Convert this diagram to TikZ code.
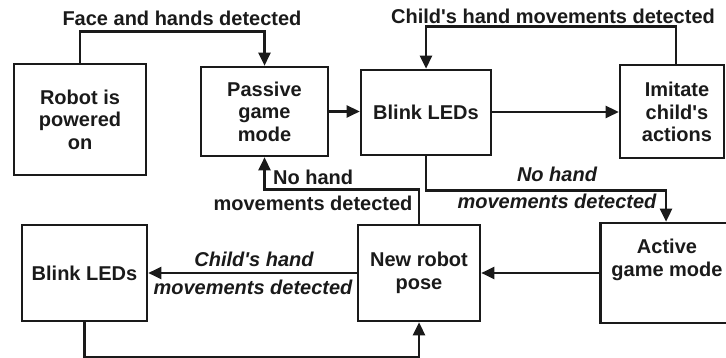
\documentclass[tikz,border=0pt]{standalone}
\usepackage{fontspec}
\setmainfont{Liberation Sans}
\usetikzlibrary{arrows.meta}
\definecolor{ink}{HTML}{1A1A1A}
\newcommand{\lblfont}{\bfseries\fontsize{20}{22.5}\selectfont}
\newcommand{\itlblfont}{\bfseries\itshape\fontsize{20}{22.5}\selectfont}
\newcommand{\apos}{\textquotesingle}
\begin{document}
\begin{tikzpicture}[x=1pt,y=-1pt,
  box/.style={draw=ink, line width=2.6pt, inner sep=0pt, align=center, text=ink, font=\lblfont},
  lab/.style={inner sep=0pt, align=center, text=ink, font=\lblfont},
  itlab/.style={inner sep=0pt, align=center, text=ink, font=\itlblfont},
  arr/.style={draw=ink, line width=2.6pt, -{Triangle[length=13pt,width=12pt]}},
  conn/.style={draw=ink, line width=2.6pt}]
\clip (0,0) rectangle (726,358);
\useasboundingbox (0,0) rectangle (726,358);
% boxes
\node[box, minimum width=132pt, minimum height=111pt] (power) at (80,119.5) {Robot is\\powered\\on};
\node[box, minimum width=127pt, minimum height=89pt] (passive) at (264.5,111.5) {Passive\\game\\mode};
\node[box, minimum width=130pt, minimum height=85pt] (blinkA) at (426,112.5) {Blink LEDs};
\node[box, minimum width=104pt, minimum height=93pt] (imitate) at (672,111.5) {};
\node[lab] (imitateText) at (677,112) {Imitate\\child\apos s\\actions};
\node[box, minimum width=131pt, minimum height=100pt] (active) at (666,273) {};
\node[lab] (activeText) at (667,260) {Active\\game mode};
\node[box, minimum width=122pt, minimum height=96pt] (newpose) at (419,273) {New robot\\pose};
\node[box, minimum width=125pt, minimum height=96pt] (blinkB) at (84.5,273) {Blink LEDs};
% connectors
\draw[arr] (power.north) -- ++(0,-31) coordinate (c1) -| (passive.north);
\node[lab] (l1) at (182,18) {Face and hands detected};
\draw[arr] (passive.east) -- (passive.east -| blinkA.west);
\draw[arr] (blinkA.east |- 0,112) -- (imitate.west |- 0,112);
\draw[arr] (imitate.north) ++(4,0) coordinate (c2) -- ++(0,-37) -| (blinkA.north);
\node[lab] (l2) at (553,16) {Child\apos s hand movements detected};
\draw[arr] (blinkA.south) -- ++(0,34) coordinate (c3) -| (active.north);
\node[itlab] (l3a) at (557,174) {No hand};
\node[itlab] (l3b) at (557,201) {movements detected};
\draw[arr] (active.west) -- (newpose.east);
\draw[arr] (newpose.north) -- ++(0,-34) coordinate (c4) -| (passive.south);
\node[lab, anchor=west] (l4a) at (273,177) {No hand};
\node[lab] (l4b) at (313,203) {movements detected};
\draw[arr] (newpose.west) -- (blinkB.east);
\node[itlab] (l5a) at (254,259) {Child\apos s hand};
\node[itlab] (l5b) at (253,287) {movements detected};
\draw[arr] (blinkB.south) -- ++(0,35) coordinate (c5) -| (newpose.south);
\end{tikzpicture}
\end{document}
